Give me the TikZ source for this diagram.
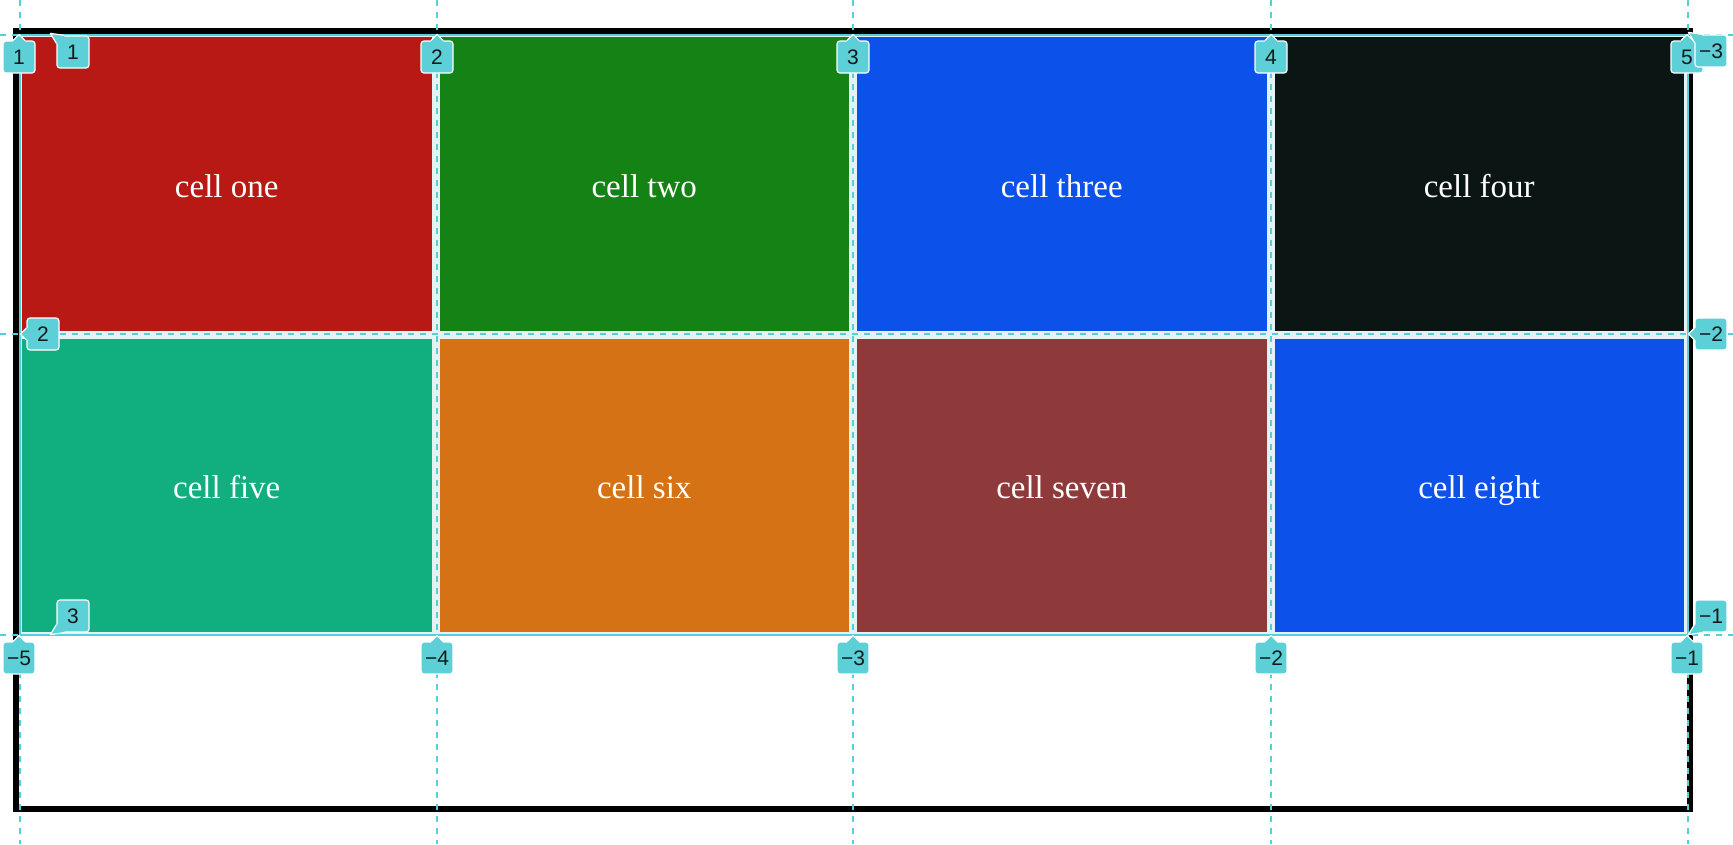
\documentclass[tikz,border=0pt]{standalone}
\usepackage{fontspec}
\setmainfont{Liberation Serif}
\newfontfamily\tagfont{Liberation Sans}
\usepackage{xcolor}
\usetikzlibrary{positioning,calc}

\definecolor{cellred}{HTML}{B91915}
\definecolor{cellgreen}{HTML}{158215}
\definecolor{cellblue}{HTML}{0B51EA}
\definecolor{celldark}{HTML}{0A1514}
\definecolor{cellteal}{HTML}{11AE80}
\definecolor{cellorange}{HTML}{D57216}
\definecolor{cellbrown}{HTML}{8E3A3A}
\definecolor{gapfill}{HTML}{E4F2F3}
\definecolor{gridcyan}{HTML}{55CFD8}
\definecolor{tagcyan}{HTML}{5CCFD7}
\definecolor{tagtext}{HTML}{141A1C}

\begin{document}
\begin{tikzpicture}[
    x=1pt, y=-1pt,
    cell/.style={
        minimum width=409.5pt,
        minimum height=293.5pt,
        inner sep=0pt,
        text height=27pt,
        text depth=0pt,
        text=white,
        font=\fontsize{33}{39}\selectfont
    },
    gridline/.style={draw=gridcyan, line width=2pt, dash pattern=on 6pt off 6pt},
    gridtag/.style={
        fill=tagcyan,
        draw=white,
        line width=1.2pt,
        rounded corners=3pt,
        minimum width=32pt,
        minimum height=32pt,
        inner sep=0pt,
        text=tagtext,
        font=\tagfont\fontsize{21}{24}\selectfont
    },
    tagedge/.style={draw=white, line width=1.2pt, line join=round}
]

\useasboundingbox (0,0) rectangle (1733,844);
\fill[white] (0,0) rectangle (1733,844);

% Container
\draw[line width=6pt] (16,31) rectangle (1690,809);

% Grid area and gaps
\fill[gapfill] (20,35) rectangle (1688,635);
\draw[gridcyan, line width=2pt] (20,35) rectangle (1688,635);

% Cells
\node[cell, fill=cellred] (one) at (226.75,183.75) {cell one};
\node[cell, fill=cellgreen] (two) at (644.25,183.75) {cell two};
\node[cell, fill=cellblue] (three) at (1061.75,183.75) {cell three};
\node[cell, fill=celldark] (four) at (1479.25,183.75) {cell four};
\node[cell, fill=cellteal] (five) at (226.75,485.25) {cell five};
\node[cell, fill=cellorange] (six) at (644.25,485.25) {cell six};
\node[cell, fill=cellbrown] (seven) at (1061.75,485.25) {cell seven};
\node[cell, fill=cellblue] (eight) at (1479.25,485.25) {cell eight};

% Grid lines
\foreach \gx in {20,437,853,1271,1688}
    \draw[gridline] (\gx,0) -- (\gx,844);
\foreach \gy in {35,334,635}
    \draw[gridline] (0,\gy) -- (1733,\gy);

% Column numbers, top
\foreach \n/\px in {1/19,2/437,3/853,4/1271,5/1687} {
    \node[gridtag] (top\n) at (\px,57) {\n};
    \fill[tagcyan] ([xshift=-6pt,yshift=-2pt]top\n.north) -- ([xshift=-6pt]top\n.north)
        -- ([yshift=6pt]top\n.north) -- ([xshift=6pt]top\n.north)
        -- ([xshift=6pt,yshift=-2pt]top\n.north) -- cycle;
    \draw[tagedge] ([xshift=-6pt]top\n.north) -- ([yshift=6pt]top\n.north)
        -- ([xshift=6pt]top\n.north);
}

% Column numbers, bottom
\foreach \n/\px in {5/19,4/437,3/853,2/1271,1/1687} {
    \node[gridtag] (bot\n) at (\px,658) {−\n};
    \fill[tagcyan] ([xshift=-6pt,yshift=-2pt]bot\n.north) -- ([xshift=-6pt]bot\n.north)
        -- ([yshift=6pt]bot\n.north) -- ([xshift=6pt]bot\n.north)
        -- ([xshift=6pt,yshift=-2pt]bot\n.north) -- cycle;
    \draw[tagedge] ([xshift=-6pt]bot\n.north) -- ([yshift=6pt]bot\n.north)
        -- ([xshift=6pt]bot\n.north);
}

% Row numbers, left
\node[gridtag] (row1) at (73,52) {1};
\fill[tagcyan] ([yshift=-8pt]row1.north west) -- ([xshift=-6pt,yshift=2pt]row1.north west)
    -- ([xshift=8pt]row1.north west) -- ([xshift=8pt,yshift=-2pt]row1.north west)
    -- ([xshift=2pt,yshift=-2pt]row1.north west) -- ([xshift=2pt,yshift=-8pt]row1.north west) -- cycle;
\draw[tagedge] ([yshift=-8pt]row1.north west) -- ([xshift=-6pt,yshift=2pt]row1.north west)
    -- ([xshift=8pt]row1.north west);

\node[gridtag] (row2) at (43,334) {2};
\fill[tagcyan] ([xshift=2pt,yshift=6pt]row2.west) -- ([yshift=6pt]row2.west)
    -- ([xshift=-6pt]row2.west) -- ([yshift=-6pt]row2.west)
    -- ([xshift=2pt,yshift=-6pt]row2.west) -- cycle;
\draw[tagedge] ([yshift=6pt]row2.west) -- ([xshift=-6pt]row2.west) -- ([yshift=-6pt]row2.west);

\node[gridtag] (row3) at (73,616) {3};
\fill[tagcyan] ([yshift=8pt]row3.south west) -- ([xshift=-6pt,yshift=-2pt]row3.south west)
    -- ([xshift=8pt]row3.south west) -- ([xshift=8pt,yshift=2pt]row3.south west)
    -- ([xshift=2pt,yshift=2pt]row3.south west) -- ([xshift=2pt,yshift=8pt]row3.south west) -- cycle;
\draw[tagedge] ([yshift=8pt]row3.south west) -- ([xshift=-6pt,yshift=-2pt]row3.south west)
    -- ([xshift=8pt]row3.south west);

% Row numbers, right
\node[gridtag] (rowm3) at (1711,51) {−3};
\fill[tagcyan] ([yshift=-8pt]rowm3.north west) -- ([xshift=-6pt,yshift=2pt]rowm3.north west)
    -- ([xshift=8pt]rowm3.north west) -- ([xshift=8pt,yshift=-2pt]rowm3.north west)
    -- ([xshift=2pt,yshift=-2pt]rowm3.north west) -- ([xshift=2pt,yshift=-8pt]rowm3.north west) -- cycle;
\draw[tagedge] ([yshift=-8pt]rowm3.north west) -- ([xshift=-6pt,yshift=2pt]rowm3.north west)
    -- ([xshift=8pt]rowm3.north west);

\node[gridtag] (rowm2) at (1711,334) {−2};
\fill[tagcyan] ([xshift=2pt,yshift=6pt]rowm2.west) -- ([yshift=6pt]rowm2.west)
    -- ([xshift=-6pt]rowm2.west) -- ([yshift=-6pt]rowm2.west)
    -- ([xshift=2pt,yshift=-6pt]rowm2.west) -- cycle;
\draw[tagedge] ([yshift=6pt]rowm2.west) -- ([xshift=-6pt]rowm2.west) -- ([yshift=-6pt]rowm2.west);

\node[gridtag] (rowm1) at (1711,616) {−1};
\fill[tagcyan] ([yshift=8pt]rowm1.south west) -- ([xshift=-6pt,yshift=-2pt]rowm1.south west)
    -- ([xshift=8pt]rowm1.south west) -- ([xshift=8pt,yshift=2pt]rowm1.south west)
    -- ([xshift=2pt,yshift=2pt]rowm1.south west) -- ([xshift=2pt,yshift=8pt]rowm1.south west) -- cycle;
\draw[tagedge] ([yshift=8pt]rowm1.south west) -- ([xshift=-6pt,yshift=-2pt]rowm1.south west)
    -- ([xshift=8pt]rowm1.south west);

\end{tikzpicture}
\end{document}
